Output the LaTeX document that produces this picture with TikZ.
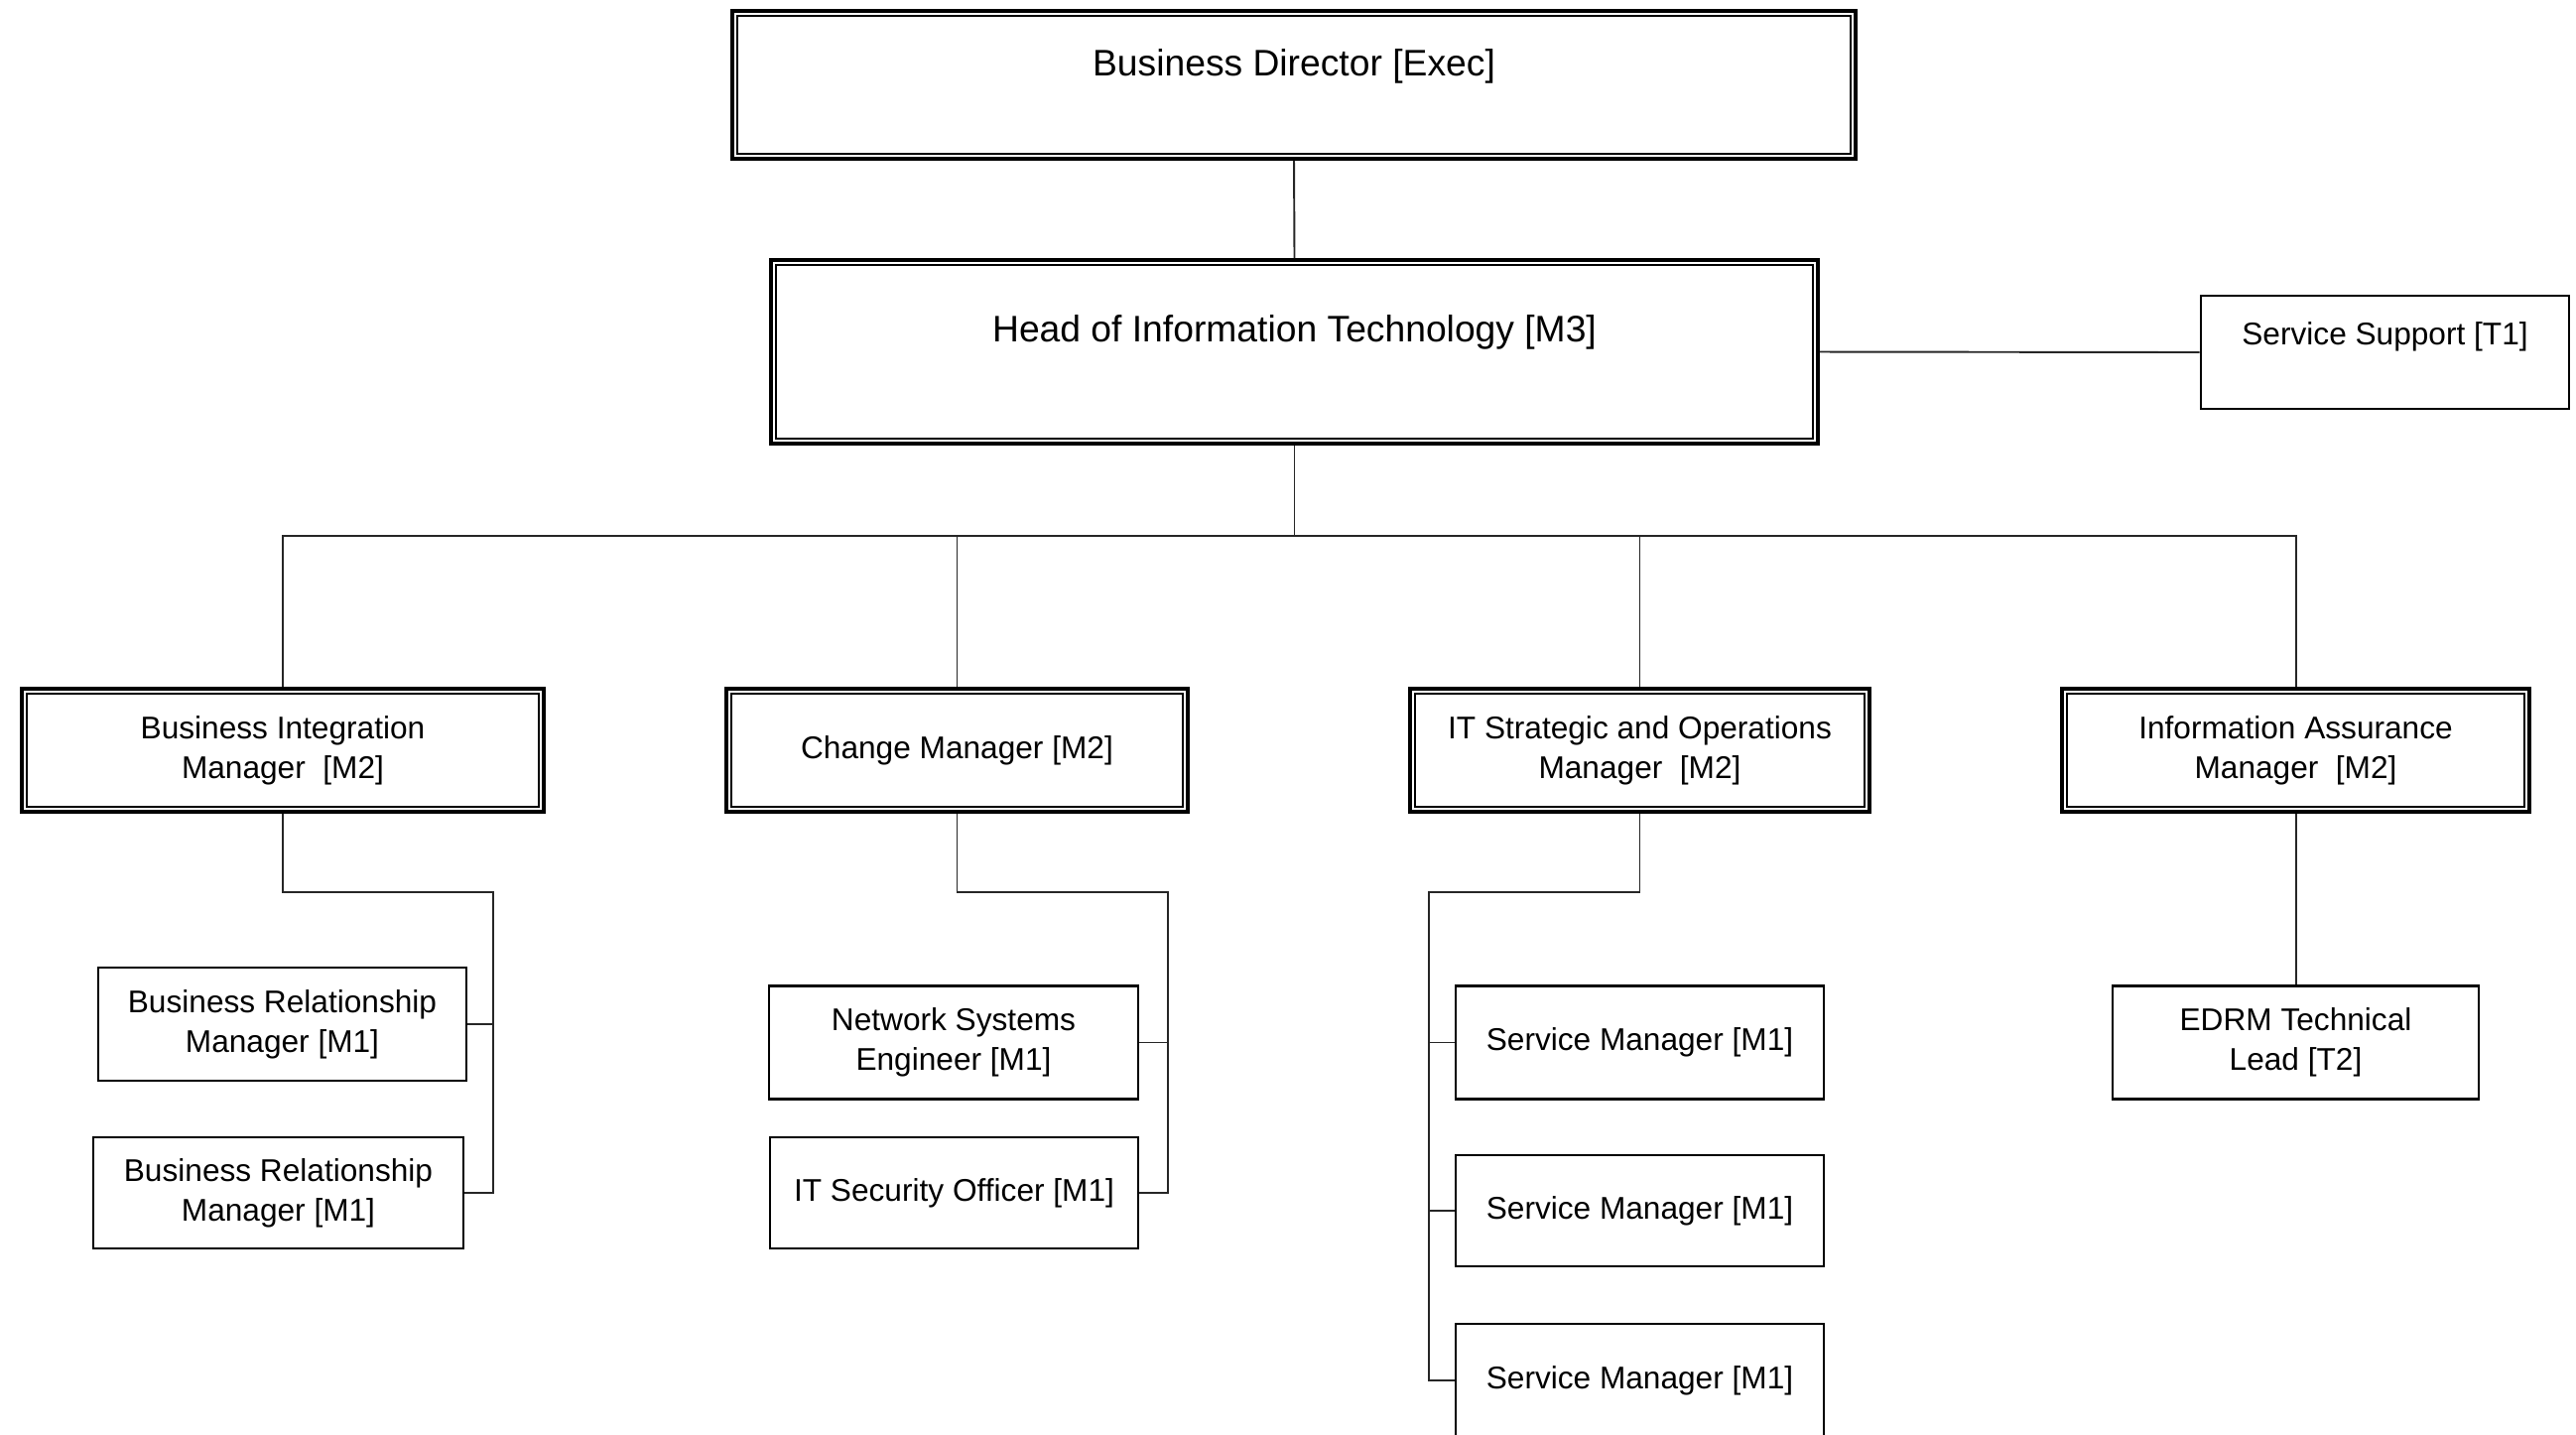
\documentclass[tikz,border=0pt]{standalone}
\usepackage{fontspec}
\setmainfont{Liberation Sans}
\usetikzlibrary{positioning,calc}

\begin{document}
\begin{tikzpicture}[
  dbox/.style={rectangle,draw=black,line width=1.1pt,inner sep=0pt,align=center,font=\fontsize{9}{11.4}\selectfont,minimum height=1.24cm},
  sbox/.style={rectangle,draw=black,line width=0.8pt,inner sep=0pt,align=center,font=\fontsize{9}{11.4}\selectfont,minimum width=3.71cm,minimum height=1.14cm},
  link/.style={draw=black!85,line width=0.55pt}
]
\useasboundingbox (0,0) rectangle (25.96,-14.45);

% top two levels
\node[dbox,font=\fontsize{10.6}{13}\selectfont,minimum width=11.32cm,minimum height=1.49cm,text height=0.65cm,text depth=0.84cm] (dir) at (13.04,-0.855) {Business Director [Exec]};
\node[dbox,font=\fontsize{10.6}{13}\selectfont,minimum width=10.55cm,minimum height=1.85cm,text height=0.82cm,text depth=1.03cm] (head) at (13.045,-3.545) {Head of Information Technology [M3]};
\node[sbox,text height=0.49cm,text depth=0.65cm] (supp) at (24.035,-3.55) {Service Support [T1]};

% managers
\node[dbox,minimum width=5.26cm] (bim) at (2.85,-7.56) {Business Integration\\Manager\ \ [M2]};
\node[dbox,minimum width=4.65cm] (chg) at (9.645,-7.56) {Change Manager [M2]};
\node[dbox,minimum width=4.63cm] (its) at (16.525,-7.56) {IT Strategic and Operations\\Manager\ \ [M2]};
\node[dbox,minimum width=4.71cm] (iam) at (23.135,-7.56) {Information Assurance\\Manager\ \ [M2]};

% inner line of the double frames
\foreach \n in {dir,head,bim,chg,its,iam}
  \draw[line width=0.65pt] ($(\n.north west)+(0.07,-0.07)$) rectangle ($(\n.south east)+(-0.07,0.07)$);

% staff
\node[sbox] (brm1) at (2.845,-10.32) {Business Relationship\\Manager [M1]};
\node[sbox,minimum width=3.73cm,minimum height=1.12cm] (brm2) at (2.805,-12.02) {Business Relationship\\Manager [M1]};
\node[sbox,minimum width=3.72cm] (nse) at (9.61,-10.505) {Network Systems\\Engineer [M1]};
\node[sbox,minimum width=3.71cm,minimum height=1.12cm] (iso) at (9.615,-12.02) {IT Security Officer [M1]};
\node[sbox] (sm1) at (16.525,-10.505) {Service Manager [M1]};
\node[sbox,minimum height=1.12cm] (sm2) at (16.525,-12.20) {Service Manager [M1]};
\node[sbox] (sm3) at (16.525,-13.91) {Service Manager [M1]};
\node[sbox,minimum width=3.69cm] (edrm) at (23.135,-10.505) {EDRM Technical\\Lead [T2]};

% connectors
\draw[link] (dir.south) -- (head.north);
\draw[link] (head.east) -- (supp.west);
\draw[link] (head.south) -- ++(0,-0.91) coordinate (bus);
\draw[link] (bim.north) |- (bus) -| (iam.north);
\draw[link] (chg.north) -- (chg.north |- bus);
\draw[link] (its.north) -- (its.north |- bus);

\coordinate (bimr) at (4.97,-8.99);
\draw[link] (bim.south) |- (bimr) |- (brm2.east);
\draw[link] (brm1.east) -- (brm1.east -| bimr);

\coordinate (chgr) at (11.77,-8.99);
\draw[link] (chg.south) |- (chgr) |- (iso.east);
\draw[link] (nse.east) -- (nse.east -| chgr);

\coordinate (itsl) at (14.40,-8.99);
\draw[link] (its.south) |- (itsl) |- (sm3.west);
\draw[link] (sm1.west) -- (sm1.west -| itsl);
\draw[link] (sm2.west) -- (sm2.west -| itsl);

\draw[link] (iam.south) -- (edrm.north);
\end{tikzpicture}
\end{document}
